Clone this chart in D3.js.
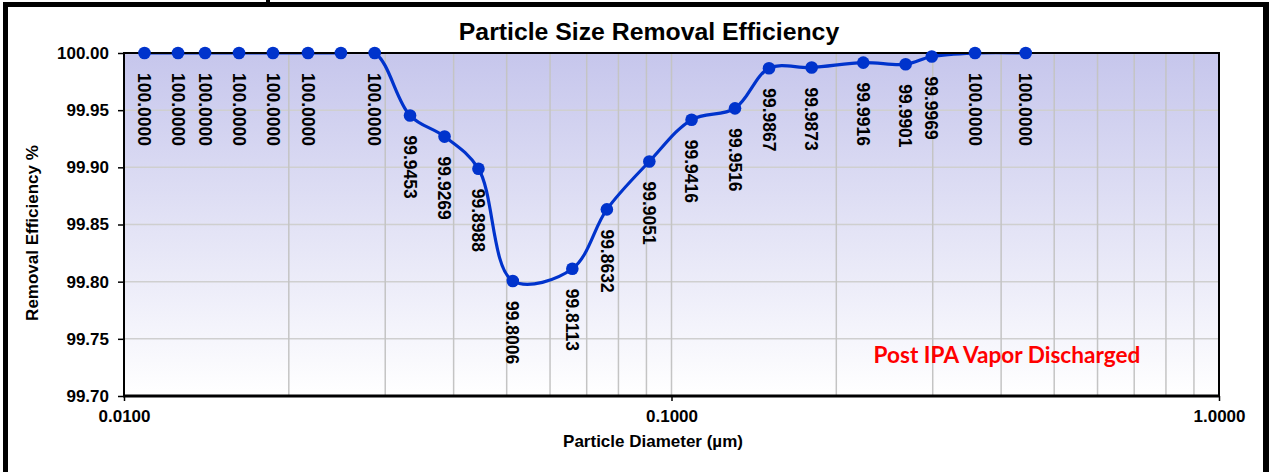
<!DOCTYPE html>
<html>
<head>
<meta charset="utf-8">
<script src="https://cdn.jsdelivr.net/npm/d3@7"></script>
<style>
  body { margin: 0; background: #fff; }
  svg { display: block; font-family: Arial, "Liberation Sans", sans-serif; }
</style>
</head>
<body>
<svg id="chart"></svg>
<script>
// particle diameters (um)
const diameters = [0.0109, 0.01255, 0.01406, 0.01622, 0.01871, 0.02168, 0.0249, 0.0287,
  0.0333, 0.0385, 0.0444, 0.0513, 0.0659, 0.0762, 0.0911, 0.1088, 0.1306, 0.1507,
  0.1803, 0.2240, 0.2677, 0.2988, 0.3584, 0.4436];
// removal efficiency %
const efficiency = [100, 100, 100, 100, 100, 100, 100, 100,
  99.9453, 99.9269, 99.8988, 99.8006, 99.8113, 99.8632, 99.9051, 99.9416, 99.9516, 99.9867,
  99.9873, 99.9916, 99.9901, 99.9969, 100, 100];
// the 7th point has no label in the original
const hiddenLabels = [6];
const yTicks = [99.70, 99.75, 99.80, 99.85, 99.90, 99.95, 100.00];
const xTicks = [0.01, 0.1, 1];
const xGrid = [0.02, 0.03, 0.04, 0.05, 0.06, 0.07, 0.08, 0.09, 0.1,
  0.2, 0.3, 0.4, 0.5, 0.6, 0.7, 0.8, 0.9];

const width = 1269;
const height = 472;
const plot = { left: 124, right: 1219, top: 53, bottom: 396 };

const data = diameters.map((d, i) => ({ d, v: efficiency[i], i }));

const svg = d3.select('#chart').attr('width', width).attr('height', height);

// outer frame (table cell borders)
svg.append('rect').attr('x', 3).attr('y', 2).attr('width', 1263).attr('height', 5).attr('fill', '#000');
svg.append('rect').attr('x', 3).attr('y', 2).attr('width', 5).attr('height', height).attr('fill', '#000');
svg.append('rect').attr('x', 1263).attr('y', 2).attr('width', 6).attr('height', height).attr('fill', '#000');
svg.append('rect').attr('x', 266).attr('y', 0).attr('width', 4).attr('height', 4).attr('fill', '#000');

const xScale = d3.scaleLog().domain([0.01, 1]).range([plot.left, plot.right]);
const yScale = d3.scaleLinear().domain([99.70, 100.00]).range([plot.bottom, plot.top]);

// plot background gradient
const defs = svg.append('defs');
const grad = defs.append('linearGradient').attr('id', 'bg')
  .attr('x1', 0).attr('y1', 0).attr('x2', 0).attr('y2', 1);
grad.append('stop').attr('offset', '0%').attr('stop-color', '#c6c6ec');
grad.append('stop').attr('offset', '100%').attr('stop-color', '#ffffff');

defs.append('clipPath').attr('id', 'plotClip')
  .append('rect')
  .attr('x', plot.left).attr('y', plot.top)
  .attr('width', plot.right - plot.left).attr('height', plot.bottom - plot.top);

svg.append('rect')
  .attr('x', plot.left).attr('y', plot.top)
  .attr('width', plot.right - plot.left).attr('height', plot.bottom - plot.top)
  .attr('fill', 'url(#bg)');

// gridlines
svg.append('g')
  .selectAll('line')
  .data(yTicks)
  .join('line')
  .attr('x1', plot.left).attr('x2', plot.right)
  .attr('y1', d => yScale(d)).attr('y2', d => yScale(d))
  .attr('stroke', '#cfcfcf').attr('stroke-width', 1.5);

svg.append('g')
  .selectAll('line')
  .data(xGrid)
  .join('line')
  .attr('x1', d => xScale(d)).attr('x2', d => xScale(d))
  .attr('y1', plot.top).attr('y2', plot.bottom)
  .attr('stroke', '#c4c4c4').attr('stroke-width', 1.5);

// axes
const yAxis = d3.axisLeft(yScale).tickValues(yTicks).tickFormat(d3.format('.2f'))
  .tickSize(6).tickPadding(9);
const yG = svg.append('g').attr('transform', `translate(${plot.left},0)`).call(yAxis);
yG.select('.domain').remove();
yG.selectAll('line').attr('stroke', '#000').attr('stroke-width', 1.5);
yG.selectAll('text').attr('font-size', 17).attr('font-weight', 'bold')
  .attr('font-family', 'Arial, "Liberation Sans", sans-serif').attr('fill', '#000');

const xAxis = d3.axisBottom(xScale).tickValues(xTicks).tickFormat(d3.format('.4f'))
  .tickSize(5).tickPadding(9);
const xG = svg.append('g').attr('transform', `translate(0,${plot.bottom})`).call(xAxis);
xG.select('.domain').remove();
xG.selectAll('line').attr('stroke', '#000').attr('stroke-width', 1.5);
xG.selectAll('text').attr('font-size', 17).attr('font-weight', 'bold')
  .attr('font-family', 'Arial, "Liberation Sans", sans-serif').attr('fill', '#000');

// the smoothed series line, clipped to plot area
const line = d3.line()
  .x(d => xScale(d.d))
  .y(d => yScale(d.v))
  .curve(d3.curveCatmullRom.alpha(0.5));

svg.append('path')
  .datum(data)
  .attr('clip-path', 'url(#plotClip)')
  .attr('fill', 'none')
  .attr('stroke', '#0033cc')
  .attr('stroke-width', 3.2)
  .attr('d', line);

// plot border
svg.append('rect')
  .attr('x', plot.left).attr('y', plot.top)
  .attr('width', plot.right - plot.left).attr('height', plot.bottom - plot.top)
  .attr('fill', 'none').attr('stroke', '#000').attr('stroke-width', 2);
svg.append('line')
  .attr('x1', plot.left - 1).attr('x2', plot.right + 1)
  .attr('y1', plot.bottom).attr('y2', plot.bottom)
  .attr('stroke', '#000').attr('stroke-width', 3);

// markers
svg.append('g')
  .selectAll('circle')
  .data(data)
  .join('circle')
  .attr('cx', d => xScale(d.d))
  .attr('cy', d => yScale(d.v))
  .attr('r', 6.3)
  .attr('fill', '#0033cc');

// data labels, rotated
svg.append('g')
  .selectAll('text')
  .data(data.filter(d => !hiddenLabels.includes(d.i)))
  .join('text')
  .attr('transform', d => `translate(${xScale(d.d)},${yScale(d.v) + 20}) rotate(90)`)
  .attr('dy', '0.36em')
  .attr('font-size', 17.5)
  .attr('font-weight', 'bold')
  .attr('fill', '#000')
  .text(d => d.v.toFixed(4));

// titles
svg.append('text')
  .attr('x', 649).attr('y', 40)
  .attr('text-anchor', 'middle')
  .attr('font-size', 24.8).attr('font-weight', 'bold')
  .text('Particle Size Removal Efficiency');

svg.append('text')
  .attr('x', 653).attr('y', 447)
  .attr('text-anchor', 'middle')
  .attr('font-size', 17).attr('font-weight', 'bold')
  .text('Particle Diameter (µm)');

svg.append('text')
  .attr('transform', `translate(38,233) rotate(-90)`)
  .attr('text-anchor', 'middle')
  .attr('font-size', 17).attr('font-weight', 'bold')
  .text('Removal Efficiency %');

svg.append('text')
  .attr('x', 1007).attr('y', 363)
  .attr('text-anchor', 'middle')
  .attr('font-family', 'Lato, "Open Sans", sans-serif')
  .attr('font-size', 22.6).attr('font-weight', 'bold')
  .attr('fill', '#ff0000')
  .text('Post IPA Vapor Discharged');
</script>
</body>
</html>
